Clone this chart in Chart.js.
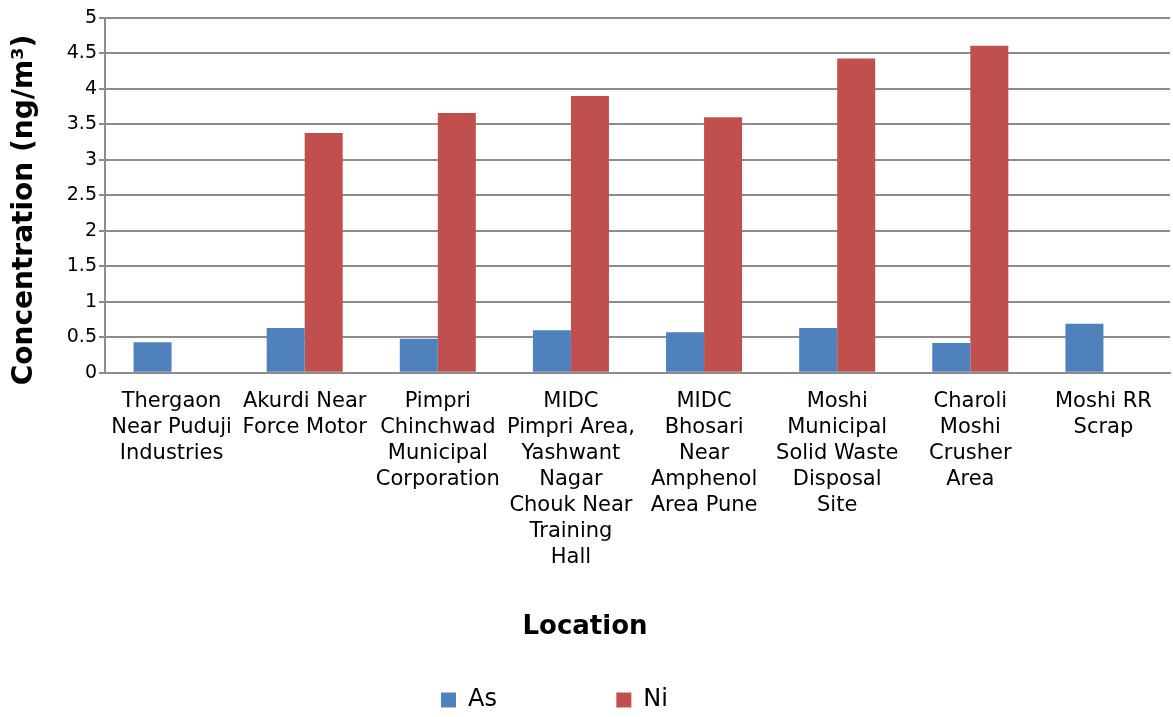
<!DOCTYPE html>
<html>
<head>
<meta charset="utf-8">
<script src="https://cdn.jsdelivr.net/npm/chart.js@4"></script>
<style>
  html, body { margin: 0; padding: 0; background: #fff; }
  #wrap { width: 1173px; height: 717px; position: relative; }
</style>
</head>
<body>
<div id="wrap"><canvas id="chart"></canvas></div>
<script>
const locations = [
  ["Thergaon", "Near Puduji", "Industries"],
  ["Akurdi Near", "Force Motor"],
  ["Pimpri", "Chinchwad", "Municipal", "Corporation"],
  ["MIDC", "Pimpri Area,", "Yashwant", "Nagar", "Chouk Near", "Training", "Hall"],
  ["MIDC", "Bhosari", "Near", "Amphenol", "Area Pune"],
  ["Moshi", "Municipal", "Solid Waste", "Disposal", "Site"],
  ["Charoli", "Moshi", "Crusher", "Area"],
  ["Moshi RR", "Scrap"]
];
const arsenic = [0.43, 0.63, 0.48, 0.60, 0.57, 0.63, 0.42, 0.69];
const nickel = [0, 3.38, 3.66, 3.90, 3.60, 4.43, 4.61, 0];

const FONT = "'DejaVu Sans', Verdana, sans-serif";
const gridGrey = "#8c8c8c";
// trailing blanks spread the two legend entries apart like the original
const legendGap = ["               ", "        "];

new Chart(document.getElementById("chart"), {
  type: "bar",
  data: {
    labels: locations,
    datasets: [
      { label: "As", data: arsenic, backgroundColor: "#4f81bd" },
      { label: "Ni", data: nickel, backgroundColor: "#c0504d" }
    ]
  },
  options: {
    responsive: true,
    maintainAspectRatio: false,
    animation: false,
    categoryPercentage: 0.571,
    barPercentage: 1,
    layout: { padding: { top: 18, right: 3, bottom: -5, left: 0 } },
    plugins: {
      tooltip: { enabled: false },
      // x axis title goes in the title box so it centres on the whole canvas
      title: {
        display: true,
        position: "bottom",
        text: "Location",
        color: "#000",
        font: { family: FONT, size: 26, weight: "bold" },
        padding: { top: 0, bottom: 40 }
      },
      legend: {
        position: "bottom",
        weight: 3000,
        labels: {
          color: "#000",
          font: { family: FONT, size: 24 },
          boxWidth: 15,
          boxHeight: 15,
          padding: 5,
          generateLabels: (chart) =>
            chart.data.datasets.map((ds, i) => ({
              text: ds.label + legendGap[i],
              fillStyle: ds.backgroundColor,
              strokeStyle: ds.backgroundColor,
              lineWidth: 0,
              datasetIndex: i
            }))
        }
      }
    },
    scales: {
      x: {
        grid: { display: false, drawTicks: false },
        border: { color: gridGrey, width: 2 },
        ticks: {
          color: "#000",
          font: { family: FONT, size: 21, lineHeight: 26 / 21 },
          padding: 16,
          maxRotation: 0,
          autoSkip: false
        },
        afterFit: (scale) => { scale.height = 239; }
      },
      y: {
        min: 0,
        max: 5,
        ticks: {
          stepSize: 0.5,
          color: "#000",
          font: { family: FONT, size: 19 },
          padding: 2,
          callback: (v) => String(v)
        },
        grid: { color: gridGrey, lineWidth: 2, tickLength: 6 },
        border: { color: gridGrey, width: 2 },
        title: {
          display: true,
          text: "Concentration (ng/m³)   ",
          color: "#000",
          font: { family: FONT, size: 28, weight: "bold" },
          padding: { top: 8, bottom: 0 }
        },
        afterFit: (scale) => { scale.width = 105; }
      }
    }
  }
});
</script>
</body>
</html>
